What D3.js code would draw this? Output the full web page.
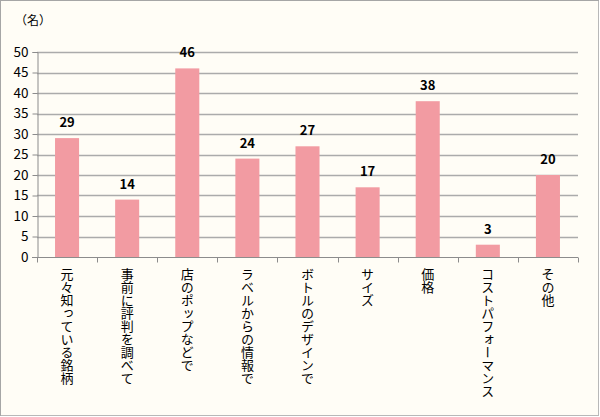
<!DOCTYPE html>
<html><head><meta charset="utf-8">
<script src="https://cdn.jsdelivr.net/npm/d3@7"></script>
<style>
html,body{margin:0;padding:0;background:#fff;}
svg{display:block;}
text{font-family:"Noto Sans CJK JP","Noto Sans",sans-serif;}
</style></head><body>
<script>
const categories = ["元々知っている銘柄","事前に評判を調べて","店のポップなどで","ラベルからの情報で","ボトルのデザインで","サイズ","価格","コストパフォーマンス","その他"];
const values = [29,14,46,24,27,17,38,3,20];
const yTicks = [0,5,10,15,20,25,30,35,40,45,50];
const unitLabel = "（名）";

const W = 600, H = 417;
const svg = d3.select("body").append("svg").attr("width", W).attr("height", H);
svg.append("rect").attr("x",0.5).attr("y",0.5).attr("width",W-2).attr("height",H-2)
  .attr("fill","#FFFDF6").attr("stroke","#A6A6A6").attr("stroke-width",1);
svg.append("line").attr("x1",1).attr("x2",W-1).attr("y1",H-1.5).attr("y2",H-1.5).attr("stroke","#B8B8B8").attr("stroke-width",1);
svg.append("line").attr("x1",W-1.5).attr("x2",W-1.5).attr("y1",1).attr("y2",H-1).attr("stroke","#B8B8B8").attr("stroke-width",1);

const m = {left:37, right:578, top:52, bottom:257};
const x = d3.scaleBand().domain(categories).range([m.left, m.right]).paddingInner(0.6).paddingOuter(0.3);
const y = d3.scaleLinear().domain([0,50]).range([m.bottom, m.top]);

// gridlines
svg.append("g").selectAll("line").data(yTicks.filter(d=>d>0)).join("line")
  .attr("x1", m.left).attr("x2", m.right)
  .attr("y1", d=>Math.round(y(d))+0.5).attr("y2", d=>Math.round(y(d))+0.5)
  .attr("stroke","#ABABAB").attr("stroke-width",1.6);

// y axis
const ya = svg.append("g").attr("transform",`translate(${m.left+0.5},0)`)
  .call(d3.axisLeft(y).tickValues(yTicks).tickSize(5).tickPadding(4));
ya.select(".domain").attr("stroke","#8C8C8C");
ya.selectAll(".tick line").attr("stroke","#8C8C8C");
ya.selectAll("text").attr("font-size",13.5).attr("fill","#000").attr("font-family","Arial, 'Liberation Sans', sans-serif");

// bars
svg.append("g").selectAll("rect").data(values).join("rect")
  .attr("x",(d,i)=>x(categories[i])).attr("width",x.bandwidth())
  .attr("y",d=>y(d)).attr("height",d=>y(0)-y(d))
  .attr("fill","#F29BA2");

// x axis
const step = (m.right-m.left)/categories.length;
const xa = svg.append("g").attr("transform",`translate(0,${m.bottom+0.5})`);
xa.append("line").attr("x1",m.left-5).attr("x2",m.right).attr("stroke","#8C8C8C");
xa.selectAll("line.t").data(d3.range(categories.length+1)).join("line").attr("class","t")
  .attr("x1",i=>Math.round(m.left+i*step)+0.5).attr("x2",i=>Math.round(m.left+i*step)+0.5)
  .attr("y1",0).attr("y2",5).attr("stroke","#8C8C8C");

// x labels vertical
svg.append("g").selectAll("text").data(categories).join("text")
  .attr("x", d=>x(d)+x.bandwidth()/2).attr("y", 268)
  .attr("writing-mode","vertical-rl").attr("text-orientation","upright")
  .attr("font-size",13).attr("fill","#000")
  .text(d=>d);

// value labels
svg.append("g").selectAll("text").data(values).join("text")
  .attr("x",(d,i)=>x(categories[i])+x.bandwidth()/2).attr("y",d=>y(d)-11)
  .attr("text-anchor","middle").attr("font-size",13).attr("font-weight","bold")
  .attr("font-family","Arial, 'Liberation Sans', sans-serif").attr("fill","#000")
  .text(d=>d);

svg.append("text").attr("x",15).attr("y",25).attr("font-size",12).attr("fill","#000").text(unitLabel);
</script>
</body></html>
